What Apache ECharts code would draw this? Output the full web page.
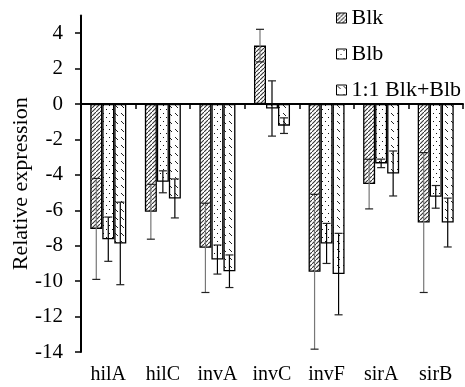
<!DOCTYPE html>
<html><head><meta charset="utf-8">
<script src="https://cdn.jsdelivr.net/npm/echarts@6/dist/echarts.min.js"></script>
<style>html,body{margin:0;padding:0;background:#fff}#c{width:465px;height:387px}</style>
</head><body><div id="c"></div>
<script>
const categories = ['hilA','hilC','invA','invC','invF','sirA','sirB'];
const blk    = [-7.05,-6.08,-8.12, 3.30,-9.47,-4.52,-6.69];
const blkErr = [ 2.85, 1.55, 2.52, 0.92, 4.37, 1.40, 3.95];
const blb    = [-7.63,-4.39,-8.78,-0.25,-7.87,-3.35,-5.24];
const blbErr = [ 1.25, 0.62, 0.82, 1.56, 1.13, 0.24, 0.64];
const mix    = [-7.87,-5.33,-9.44,-1.22,-9.60,-3.92,-6.69];
const mixErr = [ 2.33, 1.10, 0.92, 0.44, 2.30, 1.27, 1.38];
const yTicks = [-14,-12,-10,-8,-6,-4,-2,0,2,4];

function pat(w,h,draw){const c=document.createElement('canvas');c.width=w;c.height=h;const x=c.getContext('2d');x.fillStyle='#fff';x.fillRect(0,0,w,h);draw(x);return {image:c,repeat:'repeat'};}
const pBlk = pat(4,4,x=>{x.strokeStyle='#333';x.lineWidth=1.1;x.beginPath();x.moveTo(-1,5);x.lineTo(5,-1);x.stroke();});
const pBlb = pat(6,8,x=>{x.fillStyle='#111';x.fillRect(1,1,1,1);x.fillRect(4,5,1,1);});
const pMix = pat(6,8,x=>{x.strokeStyle='#222';x.lineWidth=1;x.beginPath();x.moveTo(1,1);x.lineTo(4,4);x.stroke();});

const F='Liberation Serif';
const names=['Blk','Blb','1:1 Blk+Blb'];
const vals=[blk,blb,mix], errs=[blkErr,blbErr,mixErr], pats=[pBlk,pBlb,pMix];
const lineCols=['#777','#000','#000'];

const series=[];
names.forEach((n,i)=>{
  series.push({name:n,type:'bar',data:vals[i],barGap:'0%',barCategoryGap:'34%',
    itemStyle:{color:pats[i],borderColor:'#000',borderWidth:1.3},z:2});
});
names.forEach((n,i)=>{
  series.push({type:'custom',name:n+'_err',z:5,
    data:vals[i].map((v,k)=>[k,v,errs[i][k]]),
    renderItem:function(params,api){
      const k=api.value(0),v=api.value(1),e=api.value(2);
      const band=api.size([1,0])[0];
      const bw=band*0.66/3;
      const c=api.coord([k,v]);
      const x=c[0]+(i-1)*bw;
      const top=api.coord([k,v+e])[1], bot=api.coord([k,v-e])[1];
      const hw=4;
      return {type:'group',children:[
        {type:'line',shape:{x1:x,y1:top,x2:x,y2:bot},style:{stroke:lineCols[i],lineWidth:1.2}},
        {type:'line',shape:{x1:x-hw,y1:top,x2:x+hw,y2:top},style:{stroke:'#222',lineWidth:1.2}},
        {type:'line',shape:{x1:x-hw,y1:bot,x2:x+hw,y2:bot},style:{stroke:'#222',lineWidth:1.2}}
      ]};
    }
  });
});

const chart=echarts.init(document.getElementById('c'));
chart.setOption({
  animation:false,
  textStyle:{fontFamily:F},
  grid:{left:81,right:2,top:15.5,bottom:35,containLabel:false,outerBoundsMode:'none'},
  legend:{data:names,orient:'vertical',left:331,top:2,itemWidth:10,itemHeight:10,itemGap:14,icon:'rect',
    textStyle:{fontFamily:F,fontSize:22,color:'#000'},
    itemStyle:{borderColor:'#000',borderWidth:1}},
  xAxis:[
    {type:'category',data:categories,axisLine:{onZero:true,lineStyle:{color:'#000',width:2}},
     axisTick:{show:true,length:5,lineStyle:{color:'#000',width:1.5}},axisLabel:{show:false}},
    {type:'category',data:categories,position:'bottom',axisLine:{show:false},axisTick:{show:false},
     axisLabel:{interval:0,hideOverlap:false,fontFamily:F,fontSize:20,color:'#000',margin:13}}
  ],
  yAxis:{type:'value',min:-14,max:5,interval:1,
    name:'Relative expression',nameLocation:'middle',nameGap:49,nameMoveOverlap:false,
    nameTextStyle:{fontFamily:F,fontSize:22,color:'#000'},
    axisLine:{show:true,lineStyle:{color:'#000',width:2}},
    axisTick:{show:true,length:6,customValues:yTicks,lineStyle:{color:'#000',width:1.5}},
    axisLabel:{customValues:yTicks,fontFamily:F,fontSize:21,color:'#000',margin:18},
    splitLine:{show:false}},
  series:series
});
</script></body></html>
